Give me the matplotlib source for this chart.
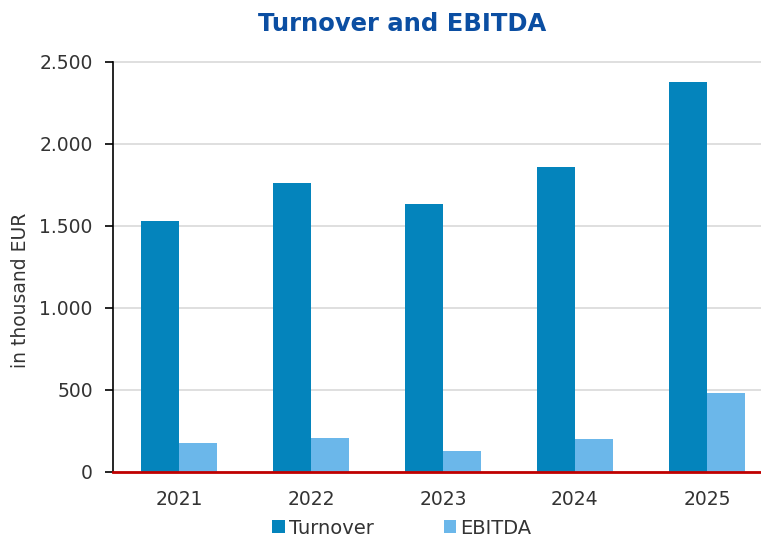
import numpy as np
import matplotlib.pyplot as plt
from matplotlib.ticker import FuncFormatter

years = ['2021', '2022', '2023', '2024', '2025']
turnover = [1528, 1762, 1632, 1858, 2375]
ebitda = [175, 205, 125, 196, 477]

plt.rcParams['font.family'] = ['DejaVu Sans']

fig = plt.figure(figsize=(7.61, 5.38), dpi=100)
ax = fig.add_axes([113 / 761, 1 - 471.5 / 538, 1 - 113 / 761, 409.8 / 538])

x = np.arange(len(years))
w = 0.288
ax.bar(x - w / 2, turnover, w, color='#0484BC', label='Turnover', zorder=3)
ax.bar(x + w / 2, ebitda, w, color='#6BB7EA', label='EBITDA', zorder=3)

ax.set_xlim(-0.5, 4.41)
ax.set_ylim(0, 2500)
ax.set_yticks(range(0, 2501, 500))
ax.yaxis.set_major_formatter(FuncFormatter(lambda v, p: f'{int(v):,}'.replace(',', '.')))
ax.set_xticks(x)
ax.set_xticklabels(years)
ax.tick_params(axis='y', length=6, width=1.2, labelsize=13.5, labelcolor='#333333',
               color='black', pad=8.5)
ax.tick_params(axis='x', length=0, labelsize=13.5, colors='#333333', pad=13)

ax.grid(axis='y', color='#DCDCDC', linewidth=1.3, zorder=0)
for gl in ax.get_ygridlines():
    gl.set_clip_on(False)
for s in ['top', 'right', 'bottom']:
    ax.spines[s].set_visible(False)
ax.spines['left'].set_linewidth(1.2)
ax.axhline(0, color='#C00000', linewidth=2, zorder=4, clip_on=False)

fig.text(21 / 761, 1 - 290 / 538, 'in thousand EUR', rotation=90, ha='center',
         va='center', fontsize=13.5, color='#333333')
fig.text(0.528, 0.955, 'Turnover and EBITDA', ha='center', va='center',
         fontsize=17.5, fontweight='bold', color='#0B4EA2')

fig.legend(loc='center', bbox_to_anchor=(0.528, 0.018), ncol=2, frameon=False,
           fontsize=14, handlelength=0.65, handleheight=0.65, handletextpad=0.2,
           columnspacing=3.6, labelcolor='#333333')

fig.savefig('out.png', dpi=100)
